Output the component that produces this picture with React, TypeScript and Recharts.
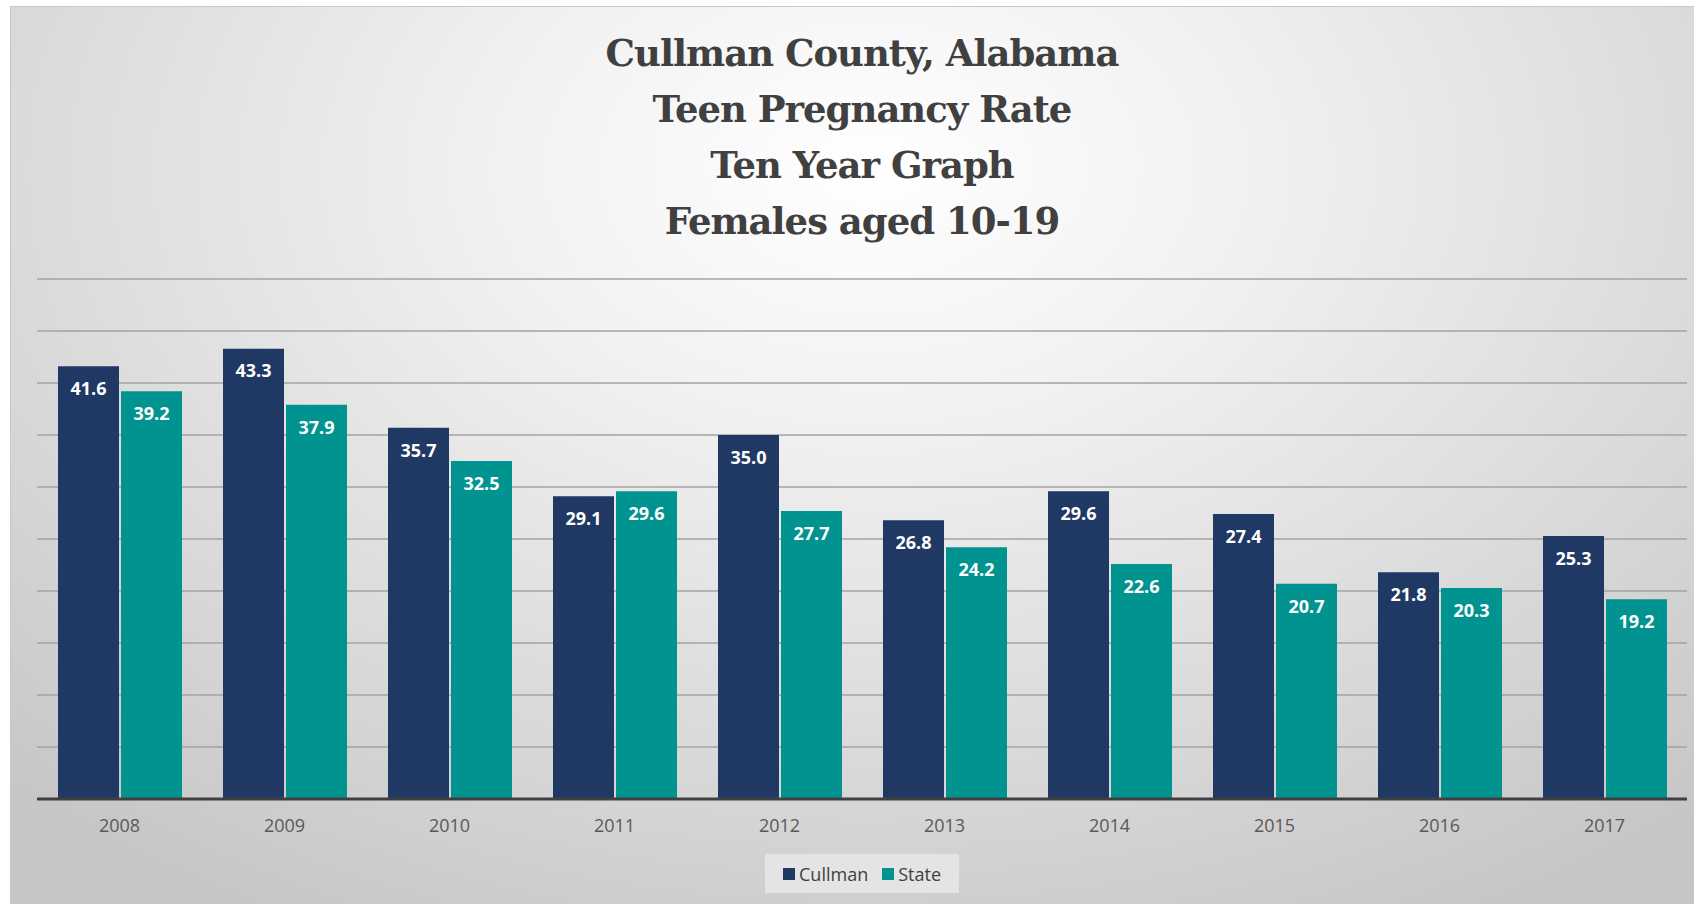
import React from "react"
import { BarChart, Bar, XAxis, YAxis, CartesianGrid, LabelList } from "recharts"

const years = ["2008", "2009", "2010", "2011", "2012", "2013", "2014", "2015", "2016", "2017"]
const cullman = [41.6, 43.3, 35.7, 29.1, 35.0, 26.8, 29.6, 27.4, 21.8, 25.3]
const state = [39.2, 37.9, 32.5, 29.6, 27.7, 24.2, 22.6, 20.7, 20.3, 19.2]
const yTicks = [0, 5, 10, 15, 20, 25, 30, 35, 40, 45, 50]
const titleLines = ["Cullman County, Alabama", "Teen Pregnancy Rate", "Ten Year Graph", "Females aged 10-19"]

const NAVY = "#203864"
const TEAL = "#00938f"

const data = years.map((year, i) => ({ year, Cullman: cullman[i], State: state[i] }))

function LegendBox() {
    const items = [
        { name: "Cullman", color: NAVY },
        { name: "State", color: TEAL },
    ]
    return (
        <div
            style={{
                position: "absolute",
                left: 765,
                top: 854,
                width: 194,
                height: 39,
                display: "flex",
                justifyContent: "center",
                alignItems: "center",
                gap: 14,
                background: "rgba(232,232,232,0.85)",
                fontFamily: "'Open Sans', sans-serif",
                fontSize: 18,
                color: "#404040",
            }}
        >
            {items.map((it) => (
                <span key={it.name} style={{ display: "flex", alignItems: "center", gap: 4 }}>
                    <span style={{ width: 12, height: 12, background: it.color, display: "inline-block" }} />
                    {it.name}
                </span>
            ))}
        </div>
    )
}

export default function App() {
    return (
        <div style={{ position: "absolute", left: 0, top: 0, width: 1694, height: 904, background: "#fff", overflow: "hidden" }}>
            <div
                style={{
                    position: "absolute",
                    left: 10,
                    top: 6,
                    width: 1684,
                    height: 898,
                    borderTop: "1px solid #c8c8c8",
                    borderLeft: "1px solid #c8c8c8",
                    background: "radial-gradient(ellipse 75% 95% at 51% 18%, #ffffff 0%, #f1f1f1 30%, #d9d9d9 70%, #c6c6c6 100%)",
                }}
            />
            <div
                style={{
                    position: "absolute",
                    left: 37,
                    width: 1650,
                    top: 25,
                    textAlign: "center",
                    fontFamily: "'DejaVu Serif', serif",
                    fontWeight: "bold",
                    fontSize: 37,
                    lineHeight: "56px",
                    color: "#404040",
                    letterSpacing: -1,
                }}
            >
                {titleLines.map((t) => (
                    <div key={t}>{t}</div>
                ))}
            </div>
            <div style={{ position: "absolute", left: 0, top: 0 }}>
                <BarChart
                    width={1694}
                    height={904}
                    data={data}
                    margin={{ top: 279, right: 7, left: 37, bottom: 75 }}
                    barCategoryGap={21}
                    barGap={2}
                >
                    <CartesianGrid vertical={false} stroke="#a3a3a3" strokeWidth={1.5} />
                    <YAxis hide domain={[0, 50]} ticks={yTicks} />
                    <XAxis
                        dataKey="year"
                        height={30}
                        axisLine={{ stroke: "#404040", strokeWidth: 3 }}
                        tickLine={false}
                        tick={{ fill: "#595959", fontSize: 18, fontFamily: "'Open Sans', sans-serif" }}
                        dy={12}
                    />
                    <Bar dataKey="Cullman" fill={NAVY} isAnimationActive={false}>
                        <LabelList
                            dataKey="Cullman"
                            position="insideTop"
                            offset={16}
                            formatter={(v: any) => Number(v).toFixed(1)}
                            style={{ fill: "#fff", fontSize: 18, fontWeight: 700, fontFamily: "'Open Sans', sans-serif" }}
                        />
                    </Bar>
                    <Bar dataKey="State" fill={TEAL} isAnimationActive={false}>
                        <LabelList
                            dataKey="State"
                            position="insideTop"
                            offset={16}
                            formatter={(v: any) => Number(v).toFixed(1)}
                            style={{ fill: "#fff", fontSize: 18, fontWeight: 700, fontFamily: "'Open Sans', sans-serif" }}
                        />
                    </Bar>
                </BarChart>
            </div>
            <LegendBox />
        </div>
    )
}
